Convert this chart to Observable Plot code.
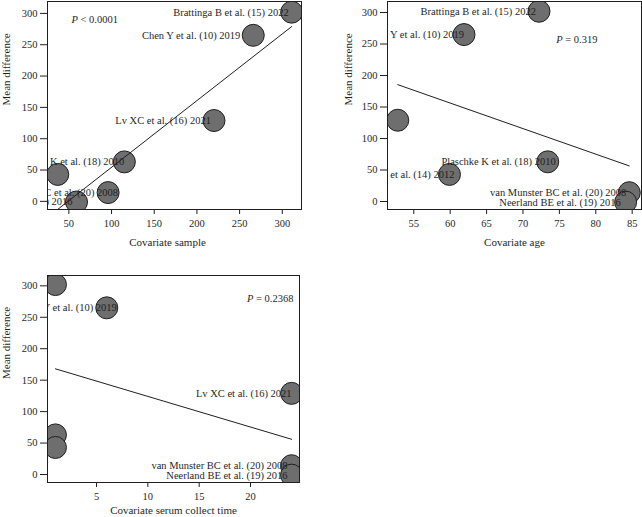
<!DOCTYPE html>
<html><head><meta charset="utf-8">
<script src="https://cdn.jsdelivr.net/npm/d3@7"></script>
<script src="https://cdn.jsdelivr.net/npm/@observablehq/plot@0.6"></script>
<style>
body{margin:0;background:#fff;}
#chart{position:relative;width:642px;height:517px;overflow:hidden;background:#fff;}
#chart svg{position:absolute;}
#chart svg, #chart svg text, #chart svg tspan{font-family:"Liberation Serif","DejaVu Serif",serif !important;}
</style></head><body><div id="chart"></div>
<script>
// Studies (labels as printed; first author of ref. 14 is never visible)
const studies = [
  "Brattinga B et al. (15) 2022",
  "Chen Y et al. (10) 2019",
  "Lv XC et al. (16) 2021",
  "Plaschke K et al. (18) 2010",
  "et al. (14) 2012",
  "van Munster BC et al. (20) 2008",
  "Neerland BE et al. (19) 2016"
];
const meanDiff   = [302, 265, 129, 63, 43, 14, -1];
const sampleSize = [311, 266, 220, 115, 37, 96, 59];
const meanAge    = [72.2, 61.9, 52.8, 73.4, 59.9, 84.6, 84.1];
const serumTime  = [1, 6, 24, 1, 1, 24, 24];

// Fitted meta-regression lines (endpoints)
const fitSampleX = [36.8, 311], fitSampleY = [-13, 279];
const fitAgeX    = [52.8, 84.6], fitAgeY   = [185.5, 56.5];
const fitTimeX   = [1, 24],      fitTimeY  = [168, 56];

const pValues = ["P < 0.0001", "P = 0.319", "P = 0.2368"];
const xLabels = ["Covariate sample", "Covariate age", "Covariate serum collect time"];
const yLabel = "Mean difference";
const yTicks = [0, 50, 100, 150, 200, 250, 300];
const xTicksSample = [50, 100, 150, 200, 250, 300];
const xTicksAge = [55, 60, 65, 70, 75, 80, 85];
const xTicksTime = [5, 10, 15, 20];

const FONT = '"Liberation Serif", "DejaVu Serif", serif';
const INK = "#1f1f1f";

function panel(cfg) {
  const data = studies.map((s, i) => ({name: s, md: meanDiff[i], x: cfg.xs[i], off: cfg.labelDx[i]}));
  const fit = cfg.fitX.map((x, i) => ({x, y: cfg.fitY[i]}));
  const labelMarks = data.map(d => Plot.text([d], {x: "x", y: "md", text: "name", textAnchor: "end", dx: d.off,
    fontSize: 10.5, fontFamily: FONT, fill: INK, clip: "frame"}));
  const svg = Plot.plot({
    width: cfg.width, height: cfg.height,
    marginLeft: cfg.ml, marginRight: cfg.mr, marginTop: cfg.mt, marginBottom: cfg.mb,
    style: {fontFamily: FONT, fontSize: "10.5px", color: INK, background: "transparent", overflow: "visible"},
    x: {domain: cfg.xDomain, label: null},
    y: {domain: cfg.yDomain, label: null},
    marks: [
      Plot.axisX(cfg.xTicks, {tickSize: 5, tickPadding: 5, label: null, fontSize: 10.5, fontFamily: FONT}),
      Plot.axisY(yTicks, {tickSize: 7, tickPadding: 3, label: null, fontSize: 10.5, fontFamily: FONT}),
      Plot.dot(data, {x: "x", y: "md", r: 11, fill: "#6e6e6e", stroke: INK, strokeWidth: 1, clip: "frame"}),
      Plot.line(fit, {x: "x", y: "y", stroke: INK, strokeWidth: 1, clip: "frame"}),
      ...labelMarks,
      Plot.text([cfg.p], {frameAnchor: cfg.pAnchor, textAnchor: cfg.pTextAnchor, dx: cfg.pdx, dy: cfg.pdy, fontSize: 10.5, fontFamily: FONT, fill: INK}),
      Plot.text([cfg.xLabel], {frameAnchor: "bottom", dx: cfg.xldx, dy: cfg.xldy, fontSize: 11, fontFamily: FONT, fill: INK}),
      Plot.text([yLabel], {frameAnchor: "left", dx: -cfg.yldx, rotate: -90, fontSize: 11, fontFamily: FONT, fill: INK}),
      Plot.frame({stroke: INK, strokeWidth: 1})
    ]
  });
  svg.style.left = cfg.left + "px";
  svg.style.top = cfg.top + "px";
  // italic P in the p-value annotation
  svg.querySelectorAll("text").forEach(t => {
    const s = t.textContent;
    if (s === cfg.p) {
      t.textContent = "";
      const ns = "http://www.w3.org/2000/svg";
      const a = document.createElementNS(ns, "tspan");
      a.setAttribute("font-style", "italic");
      a.textContent = "P";
      const b = document.createElementNS(ns, "tspan");
      b.textContent = s.slice(1);
      t.appendChild(a); t.appendChild(b);
    }
  });
  document.getElementById("chart").appendChild(svg);
}

panel({xs: sampleSize, fitX: fitSampleX, fitY: fitSampleY, xTicks: xTicksSample,
  labelDx: [-3, -13, -3, 0, -14, 10, -4],
  left: 0, top: 0, width: 320, height: 260, ml: 47, mr: 19, mt: 1, mb: 51,
  xDomain: [25, 322.5], yDomain: [-13, 319],
  p: pValues[0], pAnchor: "top-left", pTextAnchor: "start", pdx: 24, pdy: 14,
  xLabel: xLabels[0], xldx: -7, xldy: 36, yldx: 41});

panel({xs: meanAge, fitX: fitAgeX, fitY: fitAgeY, xTicks: xTicksAge,
  labelDx: [-3, 0, -14, 8, 5, -3, -5],
  left: 320, top: 0, width: 322, height: 260, ml: 67, mr: 1, mt: 1, mb: 51,
  xDomain: [51.39, 86.28], yDomain: [-12.7, 317.5],
  p: pValues[1], pAnchor: "top-right", pTextAnchor: "end", pdx: -44, pdy: 34,
  xLabel: xLabels[1], xldx: 0, xldy: 36, yldx: 39});

panel({xs: serumTime, fitX: fitTimeX, fitY: fitTimeY, xTicks: xTicksTime,
  labelDx: [-14, 10, 0, -14, -14, -4, -4],
  left: 0, top: 260, width: 320, height: 257, ml: 47, mr: 21, mt: 15, mb: 35,
  xDomain: [0.227, 24.77], yDomain: [-12.7, 316.4],
  p: pValues[2], pAnchor: "top-right", pTextAnchor: "end", pdx: -6, pdy: 19,
  xLabel: xLabels[2], xldx: 0, xldy: 31, yldx: 41});
</script>
</body></html>
